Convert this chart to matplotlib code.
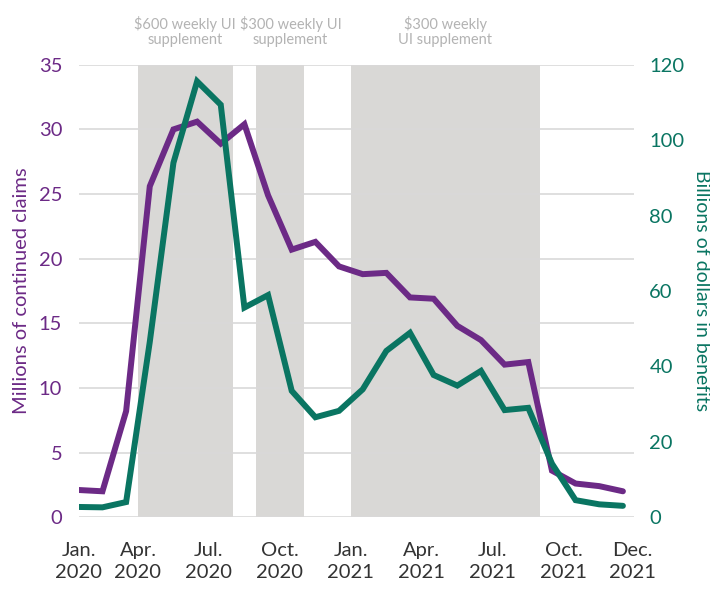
import matplotlib.pyplot as plt
import numpy as np

plt.rcParams['font.family'] = ['Lato', 'DejaVu Sans']

# monthly data, Jan 2020 - Dec 2021
months = [f"{y}-{m:02d}" for y in (2020, 2021) for m in range(1, 13)]
claims = [2.1, 2.0, 8.2, 25.6, 30.0, 30.6, 28.9, 30.4, 24.9, 20.7, 21.3, 19.4,
          18.8, 18.9, 17.0, 16.9, 14.8, 13.7, 11.8, 12.0, 3.6, 2.6, 2.4, 2.0]
benefits = [2.7, 2.6, 4.0, 46.5, 94.0, 115.6, 109.4, 55.6, 58.9, 33.5, 26.5, 28.2,
            33.9, 44.1, 48.9, 37.7, 34.9, 38.8, 28.4, 29.0, 14.2, 4.5, 3.4, 3.0]

tick_labels = ["Jan.\n2020", "Apr.\n2020", "Jul.\n2020", "Oct.\n2020", "Jan.\n2021",
               "Apr.\n2021", "Jul.\n2021", "Oct.\n2021", "Dec.\n2021"]

# supplement periods (first month, last month)
periods = [("2020-04", "2020-07"), ("2020-09", "2020-10"), ("2021-01", "2021-08")]
period_labels = ["$600 weekly UI\nsupplement", "$300 weekly UI\nsupplement",
                 "$300 weekly\nUI supplement"]

purple = "#6c2a86"
green = "#0a7562"
shade = "#d9d8d6"
grid = "#d9d9d9"

x = np.arange(len(months))

fig = plt.figure(figsize=(7.1, 5.89), dpi=100)
ax1 = fig.add_axes([0.111, 0.122, 0.782, 0.768])
ax2 = ax1.twinx()

# second label is nudged right in the original so it clears the first one
nudge = [0, 0.45, 0]
for (start, end), lab, dx in zip(periods, period_labels, nudge):
    a = months.index(start) - 0.5
    b = months.index(end) + 0.5
    ax1.axvspan(a, b, color=shade, lw=0, zorder=0)
    ax1.text((a + b) / 2 + dx, 1.074, lab, transform=ax1.get_xaxis_transform(),
             ha="center", va="center", color="#b3b3b3", fontsize=10.5,
             linespacing=1.05)

for v in range(0, 36, 5):
    ax1.axhline(v, color=grid, lw=1.2, zorder=0.5)

ax1.plot(x, claims, color=purple, lw=4.3, zorder=3, solid_joinstyle="miter",
         solid_capstyle="round")
ax2.plot(x, benefits, color=green, lw=4.3, zorder=3, solid_joinstyle="miter",
         solid_capstyle="round")

ax1.set_xlim(0, 23.47)
ax1.set_ylim(0, 35)
ax2.set_ylim(0, 120)
ax1.set_yticks(range(0, 36, 5))
ax2.set_yticks(range(0, 121, 20))

# tick positions sit at the start of each labelled month
pos = [0] + [months.index(m) - 0.5 for m in
             ["2020-04", "2020-07", "2020-10", "2021-01", "2021-04", "2021-07", "2021-10"]] + [23.4]
ax1.set_xticks(pos, tick_labels)

for ax in (ax1, ax2):
    for s in ax.spines.values():
        s.set_visible(False)
    ax.tick_params(length=0)

ax1.tick_params(axis="y", labelcolor=purple, labelsize=14.5, pad=12)
ax2.tick_params(axis="y", labelcolor=green, labelsize=14.5, pad=11)
ax1.tick_params(axis="x", labelcolor="#333333", labelsize=14.5, pad=18)
for t in ax1.get_xticklabels():
    t.set_linespacing(1.35)

ax1.set_ylabel("Millions of continued claims", color=purple, fontsize=14.5)
ax1.yaxis.set_label_coords(-0.103, 0.5)
ax1.yaxis.label.set_va("center")
ax2.set_ylabel("Billions of dollars in benefits", color=green, fontsize=14,
               rotation=270)
ax2.yaxis.set_label_coords(1.121, 0.5)
ax2.yaxis.label.set_va("center")

ax2.set_zorder(ax1.get_zorder() + 1)
ax2.patch.set_visible(False)

fig.savefig("out.png", dpi=100)
